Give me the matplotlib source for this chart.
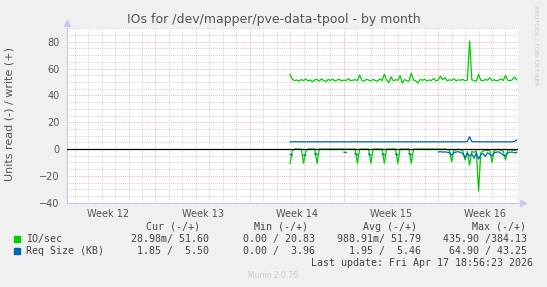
import numpy as np
import matplotlib
matplotlib.use("Agg")
import matplotlib.pyplot as plt

# --- data: 4-hour samples, starting in week 14 (x axis in days) ---
start_day, step = 16.55, 1 / 6
io_write = [55.5, 52.0, 51.0, 51.5, 50.5, 51.8,
            51.0, 52.2, 50.8, 51.5, 50.2, 51.6,
            51.9, 50.6, 52.3, 51.0, 50.4, 51.8,
            51.2, 52.0, 50.7, 51.5, 51.9, 50.8,
            51.4, 51.1, 52.4, 50.9, 51.3, 51.7,
            51.0, 55.2, 51.2, 50.6, 52.0, 51.4,
            50.8, 51.9, 51.1, 50.5, 52.3, 51.0,
            55.8, 51.4, 49.6, 53.8, 50.9, 51.7,
            51.2, 54.6, 49.3, 51.8, 51.0, 50.6,
            56.5, 51.5, 50.8, 49.2, 51.9, 51.3,
            52.0, 50.7, 51.5, 51.1, 52.6, 50.8,
            51.4, 54.3, 51.8, 53.2, 50.9, 51.6,
            51.2, 52.4, 50.8, 51.6, 51.3, 51.9,
            50.9, 51.4, 80.5, 51.6, 51.1, 50.6,
            55.6, 51.2, 50.9, 51.8, 51.3, 53.1,
            51.0, 51.7, 50.8, 51.4, 52.2, 51.1,
            54.8, 51.3, 50.9, 51.6, 53.6, 51.6]
io_read = [-10.7, -1.2, 0, 0, 0, 0,
           -10.6, -1.5, 0, 0, 0, 0,
           -10.8, 0, 0, 0, 0, 0,
           0, 0, 0, 0, 0, 0,
           -0.1, -0.1, 0, 0, 0, 0,
           -10.7, 0, 0, 0, 0, 0,
           -10.7, 0, 0, 0, 0, 0,
           -10.6, 0, 0, 0, 0, 0,
           -10.7, 0, 0, 0, 0, 0,
           -10.8, 0, 0, 0, 0, 0,
           0, 0, 0, 0, 0, 0,
           0, -0.2, 0, 0, -0.3, -0.8,
           -9.5, -1.0, -0.4, -0.2, -0.5, -1.5,
           -8.2, -2.0, -12.0, -1.8, -2.5, -1.2,
           -31.3, -2.8, -1.5, -0.8, -1.2, -0.6,
           -9.9, -0.8, -0.4, -0.3, -1.0, -1.6,
           -8.2, -1.2, -0.5, -0.8, -1.1, -0.6]
nan = np.nan
req_write = [5.4, 5.4, 5.5, 5.4, 5.4, 5.5,
             5.4, 5.4, 5.4, 5.5, 5.4, 5.4,
             5.5, 5.4, 5.4, 5.4, 5.5, 5.4,
             5.4, 5.4, 5.5, 5.4, 5.4, 5.4,
             5.5, 5.4, 5.4, 5.4, 5.4, 5.5,
             5.4, 5.4, 5.5, 5.4, 5.4, 5.4,
             5.5, 5.4, 5.4, 5.4, 5.5, 5.4,
             5.4, 5.4, 5.5, 5.4, 5.4, 5.4,
             5.5, 5.4, 5.4, 5.4, 5.5, 5.4,
             5.4, 5.4, 5.5, 5.4, 5.4, 5.4,
             5.5, 5.4, 5.4, 5.4, 5.5, 5.4,
             5.4, 5.4, 5.5, 5.4, 5.4, 5.4,
             5.5, 5.4, 5.4, 5.4, 5.5, 5.4,
             5.4, 5.6, 9.2, 5.6, 5.4, 5.4,
             5.5, 5.4, 5.4, 5.4, 5.5, 5.4,
             5.4, 5.4, 5.5, 5.4, 5.4, 5.4,
             5.5, 5.4, 5.4, 5.4, 5.6, 6.8]
req_read = [-4.0, -4.6, nan, nan, nan, nan,
            -4.5, -4.6, nan, nan, nan, -3.6,
            -3.9, nan, nan, nan, nan, nan,
            nan, nan, nan, nan, nan, nan,
            -2.3, -2.6, nan, nan, nan, -3.5,
            -4.2, nan, nan, nan, nan, -3.8,
            -4.4, nan, nan, nan, nan, -3.6,
            -4.2, nan, nan, nan, nan, -3.7,
            -4.3, nan, nan, nan, nan, -3.4,
            -4.1, nan, nan, nan, nan, nan,
            nan, nan, nan, nan, nan, nan,
            -2.2, -2.0, -2.3, -2.1, -2.4, -2.6,
            -4.6, -2.8, -2.2, -2.0, -2.5, -3.4,
            -6.5, -3.1, -5.2, -3.6, -6.8, -2.9,
            -7.4, -4.2, -3.3, -5.6, -2.8, -3.9,
            -5.2, -2.6, -2.3, -2.1, -3.2, -4.6,
            -5.1, -2.7, -2.4, -2.2, -2.9, -2.5]

week_labels = ["Week 12", "Week 13", "Week 14", "Week 15", "Week 16"]
week_starts = [6.55, 13.55, 20.55, 27.55]   # monday boundaries (days)
series = ["IO/sec", "Req Size (KB)"]
colors = ["#00CC00", "#0066B3"]
cur = ["28.98m/ 51.60", "1.85 /  5.50"]
mins = ["0.00 / 20.83", "0.00 /  3.96"]
avgs = ["988.91m/ 51.79", "1.95 /  5.46"]
maxs = ["435.90 /384.13", "64.90 / 43.25"]

W, H = 547, 287
fig = plt.figure(figsize=(W / 100, H / 100), dpi=100, facecolor="#F0F0F0")
ax = fig.add_axes([67.3 / W, 1 - 202.7 / H, (518 - 67.3) / W, (202.7 - 28.3) / H])
ax.set_facecolor("white")
ax.set_xlim(0, 33.48); ax.set_ylim(-40, 90)

# grid (munin style: grey dotted minor, red dotted major)
dot = (0, (1, 1.3))
for y in range(-35, 91, 5):
    major = y % 20 == 0
    if y == 0: continue
    ax.axhline(y, color="#EE9999" if major else "#C4C4C4", lw=0.6, ls=dot, zorder=0)
for d in np.arange(week_starts[0] - 6, 33.5, 1.0):
    major = any(abs(d - w) < 1e-6 for w in week_starts)
    ax.axvline(d, color="#EE9999" if major else "#C4C4C4", lw=0.6, ls=dot, zorder=0)

x = start_day + step * np.arange(len(io_write))
ax.plot(x, io_write, color=colors[0], lw=0.9, zorder=2)
ax.plot(x, io_read, color=colors[0], lw=0.9, zorder=2)
ax.plot(x, req_write, color=colors[1], lw=0.9, zorder=3)
ax.plot(x, req_read, color=colors[1], lw=0.9, zorder=3)
ax.axhline(0, color="black", lw=0.9, zorder=4)

for s in ("top", "right"): ax.spines[s].set_visible(False)
for s in ("left", "bottom"): ax.spines[s].set_color("#C8C8F0"); ax.spines[s].set_linewidth(0.8)
ax.plot([0], [1.03], marker="^", ms=4, color="#C8C8F0", transform=ax.transAxes, clip_on=False)
ax.plot([1.01], [0], marker=">", ms=4, color="#C8C8F0", transform=ax.transAxes, clip_on=False)

ax.set_yticks(range(-40, 81, 20))
ax.set_xticks([w - 3.5 for w in week_starts] + [week_starts[-1] + 3.5])
ax.set_xticklabels(week_labels)
ax.tick_params(length=0, labelsize=7, colors="#555555")
ax.tick_params(axis="y", pad=5.5)
ax.tick_params(axis="x", pad=4.3)
fig.text(10 / W, 1 - 114 / H, "Units read (-) / write (+)", rotation=90, ha="center", va="center",
         fontsize=8, color="#555555")

fig.text(273.5 / W, 1 - 19 / H, "IOs for /dev/mapper/pve-data-tpool - by month",
         ha="center", va="center", fontsize=9, color="#555555")
fig.text(536 / W, 1 - 5 / H, "RRDTOOL / TOBI OETIKER", rotation=270, ha="center", va="top",
         fontsize=4.5, color="#C8C8C8")

# legend table
mono = dict(family="DejaVu Sans Mono", fontsize=7.2, color="#444444", va="center")
hy = 1 - 226.7 / H
for txt, xr in zip(["Cur (-/+)", "Min (-/+)", "Avg (-/+)", "Max (-/+)"], [200, 308.4, 417, 526]):
    fig.text(xr / W, hy, txt, ha="right", **mono)
for i, yy in enumerate([239.3, 251.3]):
    fy = 1 - yy / H
    fig.patches.append(plt.Rectangle((13.5 / W, fy - 3 / H), 6 / W, 6 / H, color=colors[i],
                                     transform=fig.transFigure, figure=fig))
    fig.text(26.2 / W, fy, series[i], ha="left", **mono)
    for txt, xr in zip([cur[i], mins[i], avgs[i], maxs[i]], [209.4, 315, 421, 527]):
        fig.text(xr / W, fy, txt, ha="right", **mono)
fig.text(532.8 / W, 1 - 262.7 / H, "Last update: Fri Apr 17 18:56:23 2026", ha="right", **mono)
fig.text(273 / W, 1 - 276 / H, "Munin 2.0.76", ha="center", va="center", fontsize=5.5,
         color="#CCCCCC")

fig.savefig("out.png", dpi=100, facecolor=fig.get_facecolor())
